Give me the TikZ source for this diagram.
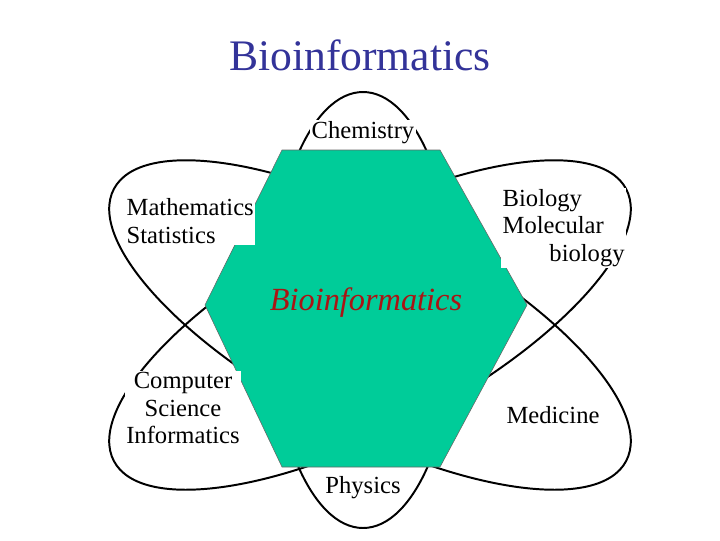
\documentclass[tikz,border=0pt]{standalone}
\usepackage{fontspec}
\setmainfont{Liberation Serif}
\begin{document}
\begin{tikzpicture}[x=0.025cm,y=-0.025cm,
  petal/.style={draw=black,line width=1.4pt},
  lab/.style={font=\fontsize{17.5}{19.5}\selectfont,align=center,fill=white,inner sep=1pt}]
\useasboundingbox (0,0) rectangle (720,540);
\draw[petal] (363,310) ellipse [x radius=93, y radius=218];
\draw[petal] (370,325) ellipse [x radius=290, y radius=105, rotate=-28];
\draw[petal] (370,325) ellipse [x radius=290, y radius=105, rotate=28];
\fill[fill={rgb,255:red,0;green,204;blue,153},draw=black!60,line width=0.4pt]
  (282,150) coordinate (h1) -- (440,150) -- (527,305) -- (440,467) -- (282,467) -- (205,305) -- cycle;
\node[font=\fontsize{31}{34}\selectfont,text={rgb,255:red,51;green,51;blue,153}] (title) at (360,55) {Bioinformatics};
\node[lab] (chem) at (363,133) {Chemistry};
\node[lab,align=left,anchor=west] (math) at (125,221) {Mathematics\\Statistics};
\node[lab,align=left,anchor=west] (bio) at (501,228) {Biology\\Molecular\\\hspace*{1.9em}biology};
\node[font=\itshape\fontsize{23}{25}\selectfont,text={rgb,255:red,170;green,20;blue,20}] (core) at (366,303) {Bioinformatics};
\node[lab] (cs) at (183,408) {Computer\\Science\\Informatics};
\node[lab] (med) at (553,415) {Medicine};
\node[lab] (phys) at (363,488) {Physics};
\end{tikzpicture}
\end{document}
